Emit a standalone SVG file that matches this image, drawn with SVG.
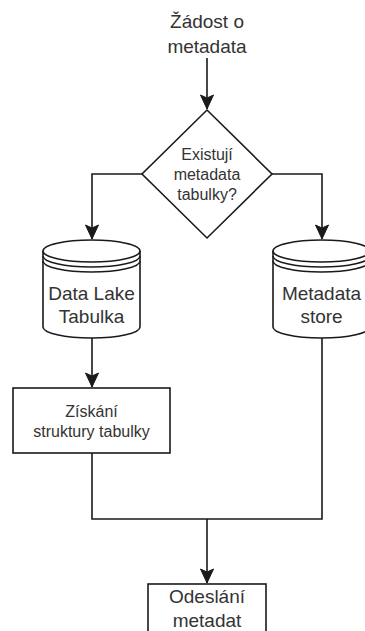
<svg xmlns="http://www.w3.org/2000/svg" width="365" height="631" viewBox="0 0 365 631">
  <style>
    .shape { fill: #ffffff; stroke: #1a1a1a; stroke-width: 1.6; }
    .line { fill: none; stroke: #1a1a1a; stroke-width: 1.6; }
    .edge { fill: none; stroke: #1a1a1a; stroke-width: 1.6; }
    text { font-family: "Liberation Sans", Arial, Helvetica, sans-serif; fill: #333333; text-anchor: middle; }
    .big { font-size: 19px; }
    .small { font-size: 16px; }
  </style>
  <defs>
    <marker id="arrow" markerUnits="userSpaceOnUse" markerWidth="16" markerHeight="16" viewBox="-15 -8 16 16" refX="0" refY="0" orient="auto">
      <path d="M0,0 L-14,-6.5 L-11,0 L-14,6.5 Z" fill="#1a1a1a" stroke="#1a1a1a" stroke-width="1"/>
    </marker>
  </defs>

  <!-- connectors -->
  <g id="connectors">
    <path class="edge" d="M207,58 L207,109" marker-end="url(#arrow)"/>
    <path class="edge" d="M142,174 L92,174 L92,239" marker-end="url(#arrow)"/>
    <path class="edge" d="M272,174 L322,174 L322,239" marker-end="url(#arrow)"/>
    <path class="edge" d="M92,338 L92,387" marker-end="url(#arrow)"/>
    <path class="edge" d="M92,453 L92,519 L322,519 L322,338"/>
    <path class="edge" d="M207,519 L207,583" marker-end="url(#arrow)"/>
  </g>

  <!-- start label -->
  <g id="request">
    <text class="big" x="207" y="28">Žádost o</text>
    <text class="big" x="207" y="53">metadata</text>
  </g>

  <!-- decision -->
  <g id="decision">
    <polygon class="shape" points="207,110 272,174 207,238 142,174"/>
    <text class="small" x="207" y="160">Existují</text>
    <text class="small" x="207" y="180">metadata</text>
    <text class="small" x="207" y="200">tabulky?</text>
  </g>

  <!-- data lake table -->
  <g id="datalake">
    <path class="shape" d="M43,251 A48.5,11 0 0 1 140,251 L140,327 A48.5,11 0 0 1 43,327 Z"/>
    <path class="line" d="M43,251 A48.5,11 0 0 0 140,251 M43,256 A48.5,11 0 0 0 140,256 M43,261 A48.5,11 0 0 0 140,261"/>
    <text class="big" x="91.5" y="300">Data Lake</text>
    <text class="big" x="91.5" y="323">Tabulka</text>
  </g>

  <!-- metadata store -->
  <g id="metastore">
    <path class="shape" d="M273,251 A48.5,11 0 0 1 370,251 L370,327 A48.5,11 0 0 1 273,327 Z"/>
    <path class="line" d="M273,251 A48.5,11 0 0 0 370,251 M273,256 A48.5,11 0 0 0 370,256 M273,261 A48.5,11 0 0 0 370,261"/>
    <text class="big" x="321.5" y="300">Metadata</text>
    <text class="big" x="321.5" y="323">store</text>
  </g>

  <!-- structure retrieval -->
  <g id="structure">
    <rect class="shape" x="13" y="388" width="157" height="65"/>
    <text class="small" x="91.5" y="417">Získání</text>
    <text class="small" x="91.5" y="437">struktury tabulky</text>
  </g>

  <!-- send metadata -->
  <g id="send">
    <rect class="shape" x="148" y="584" width="118" height="60"/>
    <text class="big" x="207" y="603">Odeslání</text>
    <text class="big" x="207" y="627">metadat</text>
  </g>
</svg>
